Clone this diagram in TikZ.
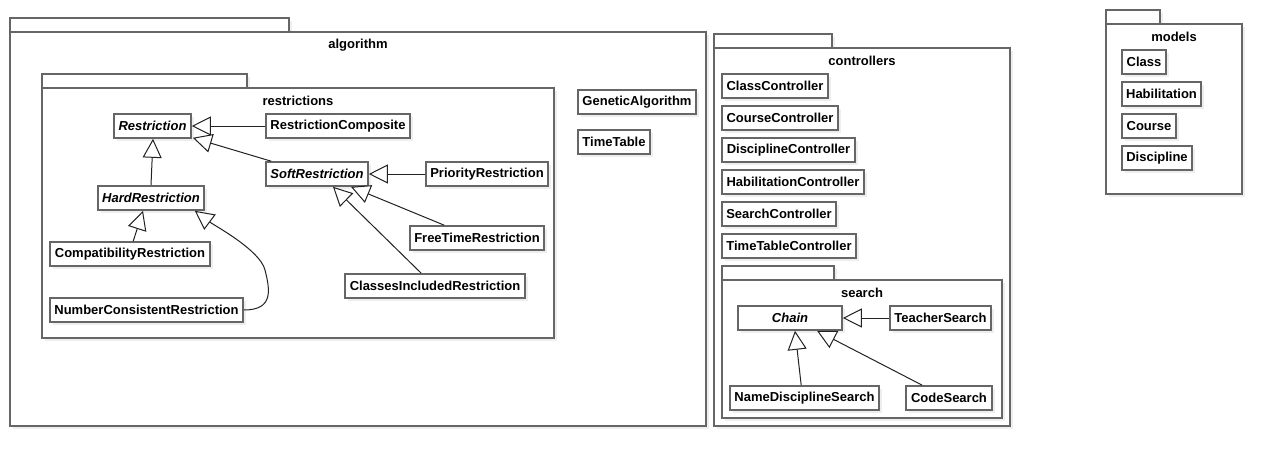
\documentclass[tikz,border=0pt]{standalone}
\usepackage{fontspec}
\setmainfont{Liberation Sans}
\usetikzlibrary{arrows.meta,shadows,calc}
\definecolor{bd}{HTML}{666666}
\definecolor{ln}{HTML}{222222}
\definecolor{sh}{HTML}{EEEEEE}
\tikzset{
  shd/.style={drop shadow={shadow xshift=3pt, shadow yshift=-3pt, fill=sh, opacity=1}},
  box/.style={draw=bd, line width=1.6pt, fill=white, inner sep=0pt, shd,
    font=\fontsize{13}{15}\selectfont\bfseries},
  ibox/.style={box, font=\fontsize{13}{15}\selectfont\bfseries\itshape},
  pkgbody/.style={draw=bd, line width=1.6pt, fill=white, inner sep=0pt, shd},
  plabel/.style={inner sep=0pt, font=\fontsize{13}{15}\selectfont\bfseries},
  inh/.style={draw=ln, line width=1pt, -{Triangle[open, length=19pt, width=19pt, fill=white]}}
}
% style, name, x1, y1, x2, y2, text
\newcommand\ubox[7]{\node[#1, minimum width={(#5-#3)*1pt}, minimum height={(#6-#4)*1pt}] (#2) at ({(#3+#5)/2},{(#4+#6)/2}) {#7};}
% name, x1, ytab, xtab2, y1, x2, y2, label
\newcommand\upkg[8]{%
  \node[pkgbody, minimum width={(#4-#2)*1pt}, minimum height={(#5-#3)*1pt}] (#1tab) at ({(#2+#4)/2},{(#3+#5)/2}) {};
  \node[pkgbody, minimum width={(#6-#2)*1pt}, minimum height={(#7-#5)*1pt}] (#1) at ({(#2+#6)/2},{(#5+#7)/2}) {};
  \node[plabel] (#1lbl) at ({(#2+#6)/2},{#5+13}) {#8};}
\begin{document}
\begin{tikzpicture}[x=1pt,y=-1pt]
\useasboundingbox (0,0) rectangle (1282,466);
% algorithm package
\upkg{algo}{10}{18}{289}{32}{706}{426}{algorithm}
\upkg{restr}{42}{74}{247}{88}{554}{338}{restrictions}
\ubox{ibox}{restriction}{114}{114}{191}{138}{Restriction}
\ubox{box}{rcomp}{266}{114}{410}{138}{RestrictionComposite}
\ubox{ibox}{soft}{266}{162}{368}{186}{SoftRestriction}
\ubox{box}{prio}{426}{162}{548}{186}{PriorityRestriction}
\ubox{ibox}{hard}{98}{186}{204}{210}{HardRestriction}
\ubox{box}{compat}{50}{242}{210}{266}{CompatibilityRestriction}
\ubox{box}{free}{410}{226}{544}{250}{FreeTimeRestriction}
\ubox{box}{classes}{345}{274}{525}{298}{ClassesIncludedRestriction}
\ubox{box}{numcons}{50}{298}{243}{322}{NumberConsistentRestriction}
\ubox{box}{genetic}{578}{90}{696}{114}{GeneticAlgorithm}
\ubox{box}{timetable}{578}{130}{650}{154}{TimeTable}
% controllers package
\upkg{ctrl}{714}{34}{832}{48}{1010}{426}{controllers}
\ubox{box}{classctrl}{722}{74}{828}{98}{ClassController}
\ubox{box}{coursectrl}{722}{106}{838}{130}{CourseController}
\ubox{box}{discctrl}{722}{138}{855}{162}{DisciplineController}
\ubox{box}{habctrl}{722}{170}{864}{194}{HabilitationController}
\ubox{box}{searchctrl}{722}{202}{836}{226}{SearchController}
\ubox{box}{ttctrl}{722}{234}{856}{258}{TimeTableController}
\upkg{search}{722}{266}{834}{280}{1002}{418}{search}
\ubox{ibox}{chain}{738}{306}{842}{330}{Chain}
\ubox{box}{teacher}{890}{306}{991}{330}{TeacherSearch}
\ubox{box}{namedisc}{730}{386}{879}{410}{NameDisciplineSearch}
\ubox{box}{code}{906}{386}{992}{410}{CodeSearch}
% models package
\upkg{models}{1106}{10}{1160}{24}{1242}{194}{models}
\ubox{box}{mclass}{1122}{50}{1166}{74}{Class}
\ubox{box}{mhab}{1122}{82}{1201}{106}{Habilitation}
\ubox{box}{mcourse}{1122}{114}{1176}{138}{Course}
\ubox{box}{mdisc}{1122}{146}{1192}{170}{Discipline}
% inheritance connectors
\draw[inh] (rcomp.west) -- (restriction.east);
\draw[inh] ($(soft.north west)+(6,0)$) -- ($(restriction.south east)+(1,-1)$);
\draw[inh] (hard.north) -- ($(restriction.south)+(0.5,0)$);
\draw[inh] (prio.west) -- (soft.east);
\draw[inh] ($(free.north west)+(35,0)$) -- ($(soft.south)+(34,0)$);
\draw[inh] ($(classes.north west)+(77,0)$) -- ($(soft.south)+(16,0)$);
\draw[inh] ($(compat.north west)+(84,0)$) -- ($(hard.south)+(-8,0)$);
\coordinate (bend) at (265,270);
\draw[inh] (numcons.east) .. controls +(30,0) and +(5,20) .. (bend)
  .. controls +(-5,-20) and +(20,15) .. ($(hard.south east)+(-10,0)$);
\draw[inh] (teacher.west) -- (chain.east);
\draw[inh] ($(namedisc.north west)+(72,0)$) -- ($(chain.south)+(5,0)$);
\draw[inh] ($(code.north west)+(17,0)$) -- ($(chain.south)+(27,0)$);
\end{tikzpicture}
\end{document}
